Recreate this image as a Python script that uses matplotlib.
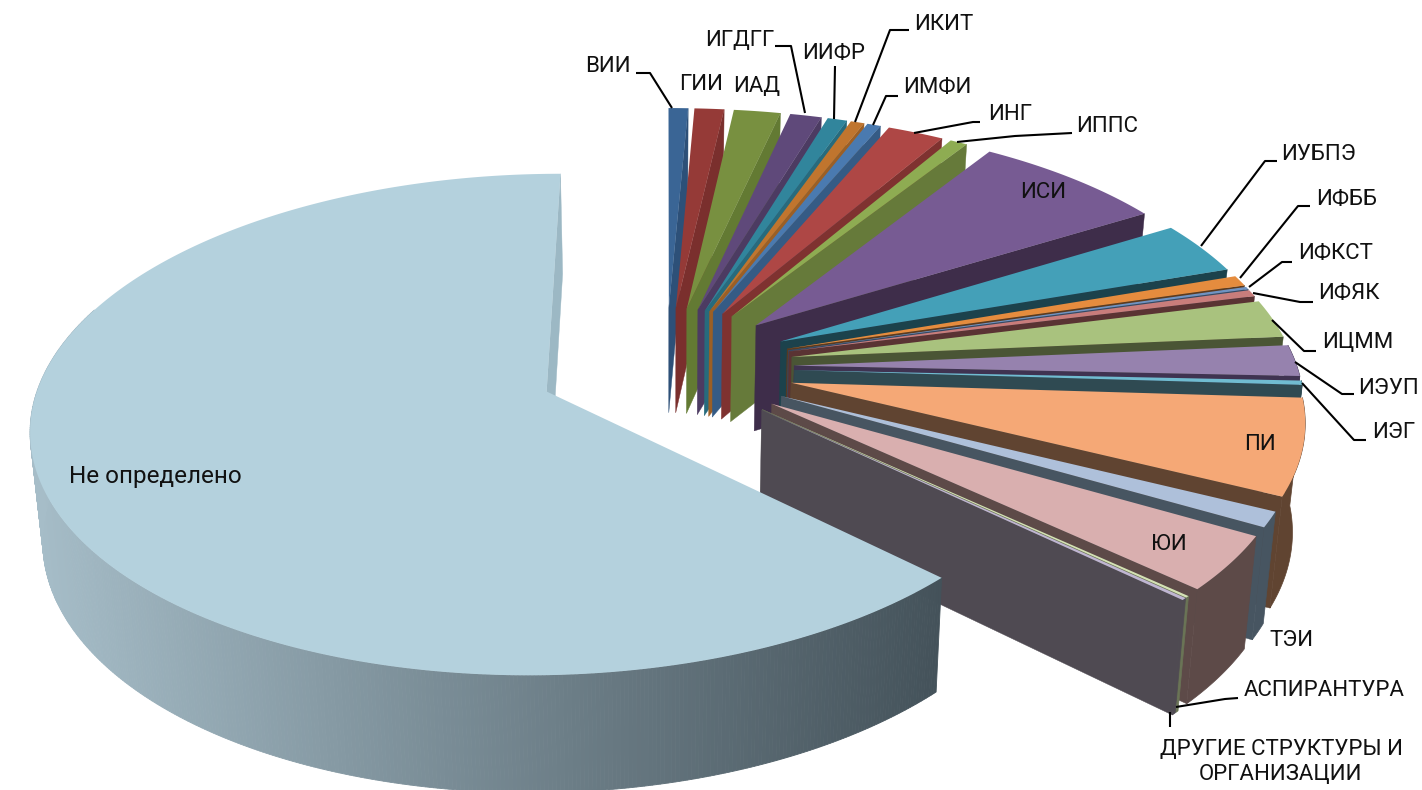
import numpy as np
import matplotlib
matplotlib.use('Agg')
from matplotlib import pyplot as plt
from matplotlib.colors import to_rgb

plt.rcParams['font.family'] = ['Roboto', 'Open Sans']

names = ['ВИИ','ГИИ','ИАД','ИГДГГ','ИИФР','ИКИТ','ИМФИ','ИНГ','ИППС','ИСИ','ИУБПЭ','ИФББ',
         'ИФКСТ','ИФЯК','ИЦММ','ИЭУП','ИЭГ','ПИ','ТЭИ','ЮИ','АСПИРАНТУРА',
         'ДРУГИЕ СТРУКТУРЫ И\nОРГАНИЗАЦИИ','Не определено']
values = [0.72,1.09,1.72,1.16,0.72,0.50,0.50,2.08,0.64,7.10,3.47,0.70,
          0.17,0.44,2.50,2.05,0.28,6.25,1.00,3.55,0.11,0.14,62.63]
top_colors = ['#3a6595','#953a37','#789040','#5f497a','#31859c','#c0752e','#4a7ab0','#ae4745',
              '#8eac52','#775b93','#44a0b8','#e58c3e','#6f93c2','#c97d7b','#a9c27e','#9682ae',
              '#70bcd1','#f5a876','#aec0da','#d9afaf','#d4e2b4','#bfb5d2','#b4d1dd']
side_colors = ['#2d5078','#7a2f2d','#637a33','#4c3b62','#276b7d','#9c5f25','#355b85','#7f3230',
               '#667a3a','#3e2d4a','#1c424c','#5c3a1e','#334a66','#5a3333','#4a5535','#3f3351',
               '#2f4a52','#604431','#475561','#5d4a48','#6a7456','#4f4a52','#9cb8c4']

# label text: x, y, ha for each name
label_pos = [(585,66,'left'),(679,84,'left'),(733,87,'left'),(705,40,'left'),(802,54,'left'),
             (914,24,'left'),(903,87,'left'),(988,114,'left'),(1076,126,'left'),(1020,192,'left'),
             (1281,155,'left'),(1316,199,'left'),(1298,254,'left'),(1318,294,'left'),(1322,343,'left'),
             (1358,388,'left'),(1372,432,'left'),(1244,444,'left'),(1269,640,'left'),(1151,544,'left'),
             (1244,691,'left'),(1281,762,'center'),(69,476,'left')]
leaders = [[(636,73),(650,73),(672,108)],
           [(775,46),(791,46),(805,113)],
           [(835,66),(834,119)],
           [(909,30),(890,30),(855,122)],
           [(898,96),(886,96),(873,125)],
           [(980,122),(973,122),(914,133)],
           [(1072,133),(1015,136),(957,142)],
           [(1277,161),(1265,161),(1201,246)],
           [(1310,206),(1298,206),(1240,278)],
           [(1292,262),(1282,262),(1249,287)],
           [(1313,302),(1300,302),(1253,293)],
           [(1316,351),(1304,351),(1272,320)],
           [(1354,394),(1342,394),(1295,362)],
           [(1366,440),(1354,440),(1302,383)],
           [(1238,698),(1225,699),(1176,707)],
           [(1170,712),(1170,727)]]

# view of the pie
cx, cy = 666, 367
a, b = 503, 240
persp = 0.13
depth = 107
shrink = 0.02
explode = 0.255


def project(u, v, low=False):
    w = 1 + persp*v
    x = cx + a*u/w
    y = cy - b*v/w
    if low:
        x = cx + (x-cx)*(1-shrink)
        y = y + depth/w**0.6
    return x, y


def wedge_points(t1, t2, off_u, off_v, low=False):
    t = np.radians(np.arange(t1, t2, 0.4).tolist() + [t2])
    x, y = project(off_u + np.sin(t), off_v + np.cos(t), low)
    return x, y


fig = plt.figure(figsize=(14.22, 7.9), dpi=100)
ax = fig.add_axes([0, 0, 1, 1])
ax.set_xlim(0, 1422)
ax.set_ylim(790, 0)
ax.axis('off')

total = sum(values)
start = 0.0
for i in range(len(values)):
    span = values[i]/total*360
    end = start + span
    mid = np.radians(start + span/2)
    ou, ov = explode*np.sin(mid), explode*np.cos(mid)

    xt, yt = wedge_points(start, end, ou, ov)
    xb, yb = wedge_points(start, end, ou, ov, True)
    tipx, tipy = project(ou, ov)
    tipx2, tipy2 = project(ou, ov, True)

    if i == len(values)-1:
        # gradient on the long outer wall, back part is hidden anyway
        c1 = np.array(to_rgb('#a6bdc8'))
        c2 = np.array(to_rgb('#44525a'))
        for k in range(len(xt)-1):
            if start + 0.4*k > 290:
                break
            f = np.clip((xt[k]-30)/(943-30), 0, 1)
            col = c1 + (c2-c1)*f
            ax.fill([xt[k],xt[k+1],xb[k+1],xb[k]], [yt[k],yt[k+1],yb[k+1],yb[k]],
                    facecolor=col, edgecolor=col, lw=0.6, zorder=i*3)
    elif end > 90:
        ax.fill(np.r_[xt, xb[::-1]], np.r_[yt, yb[::-1]], facecolor=side_colors[i],
                edgecolor=side_colors[i], lw=0.5, zorder=i*3)

    # end cut
    ax.fill([tipx, xt[-1], xb[-1], tipx2], [tipy, yt[-1], yb[-1], tipy2],
            facecolor=side_colors[i], edgecolor=side_colors[i], lw=0.3, zorder=i*3+1)
    # top face
    ax.fill(np.r_[tipx, xt], np.r_[tipy, yt], facecolor=top_colors[i],
            edgecolor='none', zorder=i*3+2)
    start = end

for line in leaders:
    ax.plot([p[0] for p in line], [p[1] for p in line], color='black', lw=1.5, zorder=200,
            solid_capstyle='butt')

for i, n in enumerate(names):
    x, y, ha = label_pos[i]
    size = 17.5 if n == 'Не определено' else 16
    ax.text(x, y, n, ha=ha, va='center', fontsize=size, color='#111111', zorder=201,
            multialignment='center', linespacing=1.25)

fig.savefig('out.png', dpi=100)
